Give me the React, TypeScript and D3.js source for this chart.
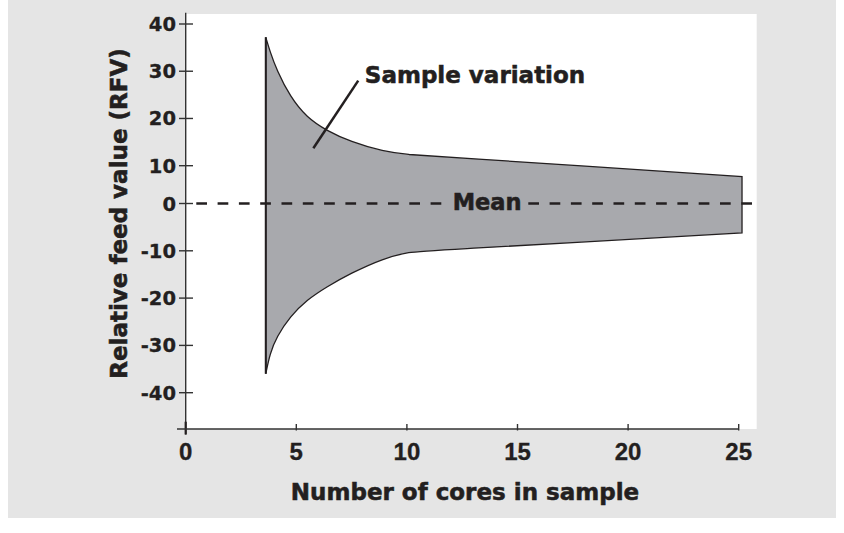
import React from "react";
import * as d3 from "d3";

// ---- data ----
const coresX = [3.62, 3.81, 4.11, 4.72, 5.47, 6.38, 7.44, 8.93, 10.13, 11.04, 25.15];
const upperRFV = [37.2, 34.2, 30.3, 24.6, 20.2, 17.4, 15.1, 13.0, 12.3, 12.1, 7.1];
const lowerRFV = [-36.0, -31.7, -28.2, -23.9, -20.4, -17.6, -14.8, -11.6, -10.2, -10.0, -6.2];

const xTicks = [0, 5, 10, 15, 20, 25];
const yTicks = [40, 30, 20, 10, 0, -10, -20, -30, -40];
// the original axis is hand drawn: the 0-10 interval is shorter than the others
const yDomainKnots = [-40, 0, 10, 40];

const xTitle = "Number of cores in sample";
const yTitle = "Relative feed value (RFV)";
const bandLabel = "Sample variation";
const meanLabel = "Mean";
const bandLabelPos = [8.1, 27.5];
const pointerFrom = [7.8, 28.0];
const pointerTo = [5.77, 13.7];
const meanLabelX = 12.07;

const W = 844;
const H = 533;
const BOLD = "'DejaVu Sans', sans-serif";
const ARIAL = "'Liberation Sans', Arial, sans-serif";
const INK = "#231f20";
const AXIS = "#333333";

export default function App() {
  const x = d3.scaleLinear().domain([0, 25]).range([185.7, 738.7]);
  const y = d3.scaleLinear().domain(yDomainKnots).range([392.7, 203.5, 165.7, 24]);

  const rows = coresX.map((c, i) => ({ c, hi: upperRFV[i], lo: lowerRFV[i] }));
  const area = d3
    .area<{ c: number; hi: number; lo: number }>()
    .x((d) => x(d.c))
    .y0((d) => y(d.lo))
    .y1((d) => y(d.hi))
    .curve(d3.curveBasis);
  const bandPath = area(rows) || "";

  const axisX = x(0);
  const axisY = 429;
  const y0 = y(0);
  const heavy = { stroke: INK, strokeWidth: 0.55, paintOrder: "stroke" as const };

  return (
    <svg
      width={W}
      height={H}
      viewBox={`0 0 ${W} ${H}`}
      style={{ position: "absolute", left: 0, top: 0, display: "block" }}
    >
      <rect x={0} y={0} width={W} height={H} fill="#ffffff" />
      <rect x={8} y={0} width={828} height={518} fill="#e5e5e5" />
      <rect x={axisX} y={14} width={756.7 - axisX} height={axisY - 14} fill="#ffffff" />

      {/* band */}
      <path d={bandPath} fill="#a8a9ad" stroke={INK} strokeWidth={1.3} strokeLinejoin="miter" />
      <line x1={x(coresX[0])} x2={x(coresX[0])} y1={y(upperRFV[0])} y2={y(lowerRFV[0])} stroke={INK} strokeWidth={2} />

      {/* mean dashed line */}
      <line
        x1={axisX}
        x2={x(meanLabelX) - 11}
        y1={y0}
        y2={y0}
        stroke={INK}
        strokeWidth={2.6}
        strokeDasharray="10.7 10.6"
        strokeDashoffset={10.7}
      />
      <line
        x1={x(meanLabelX) + 75.6}
        x2={753.3}
        y1={y0}
        y2={y0}
        stroke={INK}
        strokeWidth={2.6}
        strokeDasharray="10.7 10.6"
      />
      <text x={x(meanLabelX)} y={y0 + 6.5} fontFamily={BOLD} fontWeight="bold" fontSize={22.5} fill={INK} {...heavy}>
        {meanLabel}
      </text>

      {/* annotation */}
      <line
        x1={x(pointerFrom[0])}
        y1={y(pointerFrom[1])}
        x2={x(pointerTo[0])}
        y2={y(pointerTo[1])}
        stroke={INK}
        strokeWidth={2.5}
      />
      <text x={x(bandLabelPos[0])} y={y(bandLabelPos[1])} fontFamily={BOLD} fontWeight="bold" fontSize={23} fill={INK} {...heavy}>
        {bandLabel}
      </text>

      {/* y axis */}
      <line x1={axisX} x2={axisX} y1={12.7} y2={434.5} stroke={AXIS} strokeWidth={1.4} />
      <line x1={axisX} x2={axisX} y1={421.7} y2={434.5} stroke={INK} strokeWidth={2.2} />
      {yTicks.map((t) => (
        <g key={"y" + t}>
          <line x1={179} x2={193} y1={y(t)} y2={y(t)} stroke={AXIS} strokeWidth={1.4} />
          <text
            x={176}
            y={y(t)}
            dy="0.36em"
            textAnchor="end"
            fontFamily={BOLD}
            fontWeight="bold"
            fontSize={19.5}
            fill={INK}
            stroke={INK}
            strokeWidth={0.3}
          >
            {t}
          </text>
        </g>
      ))}

      {/* x axis */}
      <line x1={177} x2={x(25)} y1={axisY} y2={axisY} stroke={AXIS} strokeWidth={1.4} />
      {xTicks.map((t) => (
        <g key={"x" + t}>
          {t !== 0 && <line x1={x(t)} x2={x(t)} y1={424} y2={430.5} stroke={AXIS} strokeWidth={1.4} />}
          <text
            x={x(t)}
            y={460}
            textAnchor="middle"
            fontFamily={ARIAL}
            fontWeight="bold"
            fontSize={24}
            fill={INK}
            stroke={INK}
            strokeWidth={0.3}
          >
            {t}
          </text>
        </g>
      ))}

      {/* titles */}
      <text x={465} y={500} textAnchor="middle" fontFamily={BOLD} fontWeight="bold" fontSize={23} fill={INK} {...heavy}>
        {xTitle}
      </text>
      <text
        transform={`translate(126.5, 213.5) rotate(-90)`}
        textAnchor="middle"
        fontFamily={BOLD}
        fontWeight="bold"
        fontSize={23}
        fill={INK}
        {...heavy}
      >
        {yTitle}
      </text>
    </svg>
  );
}
